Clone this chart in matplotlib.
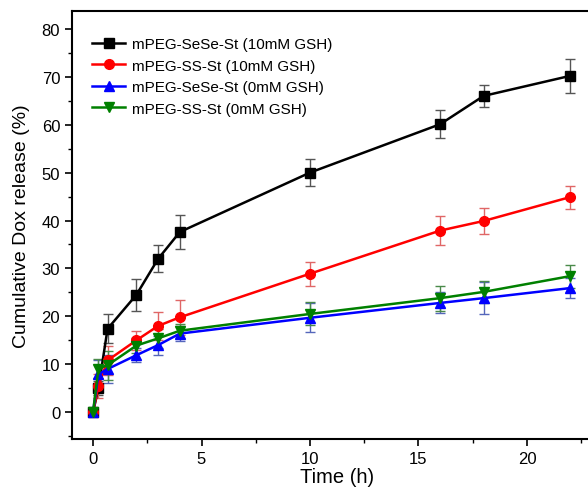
import matplotlib.pyplot as plt
from matplotlib.ticker import MultipleLocator

plt.rcParams['font.family'] = ['Liberation Sans', 'DejaVu Sans']

# release data (time in h, cumulative release in %)
time_h = [0, 0.25, 0.67, 2, 3, 4, 10, 16, 18, 22]

sese_10 = [0, 5.0, 17.4, 24.5, 32.0, 37.6, 50.0, 60.1, 66.0, 70.2]
sese_10_err = [0, 1.5, 3.0, 3.3, 2.8, 3.5, 2.9, 2.9, 2.3, 3.6]

ss_10 = [0, 5.5, 10.8, 15.0, 18.0, 19.8, 28.9, 37.9, 39.9, 44.9]
ss_10_err = [0, 2.5, 3.0, 2.0, 3.0, 3.6, 2.5, 3.1, 2.8, 2.4]

sese_0 = [0, 7.9, 9.0, 11.9, 14.0, 16.4, 19.7, 22.8, 23.8, 25.9]
sese_0_err = [0, 3.0, 3.0, 1.5, 2.0, 1.5, 3.0, 2.2, 3.4, 2.0]

ss_0 = [0, 9.1, 9.8, 13.9, 15.4, 17.0, 20.5, 23.8, 25.1, 28.4]
ss_0_err = [0, 2.0, 3.0, 1.5, 2.0, 1.5, 2.4, 2.6, 2.3, 2.4]

labels = ['mPEG-SeSe-St (10mM GSH)', 'mPEG-SS-St (10mM GSH)',
          'mPEG-SeSe-St (0mM GSH)', 'mPEG-SS-St (0mM GSH)']

fig = plt.figure(figsize=(5.88, 4.89), dpi=100)
ax = fig.add_axes([0.1224, 0.1002, 0.903, 0.876])

series = [
    (sese_10, sese_10_err, 'black', 's', '#555555'),
    (ss_10, ss_10_err, 'red', 'o', '#e06666'),
    (sese_0, sese_0_err, 'blue', '^', '#5566bb'),
    (ss_0, ss_0_err, 'green', 'v', '#4a8a4a'),
]
handles = []
for (vals, errs, col, mk, ecol), lab in zip(series, labels):
    eb = ax.errorbar(time_h, vals, yerr=errs, color=col, marker=mk, markersize=7,
                     linewidth=1.8, ecolor=ecol, elinewidth=1.0, capsize=3.5,
                     capthick=1.0, label=lab)
    handles.append(eb[0])

ax.set_xlim(-0.97, 23.5)
ax.set_ylim(-5.6, 83.8)
ax.xaxis.set_major_locator(MultipleLocator(5))
ax.xaxis.set_minor_locator(MultipleLocator(2.5))
ax.yaxis.set_major_locator(MultipleLocator(10))
ax.yaxis.set_minor_locator(MultipleLocator(5))
ax.tick_params(which='major', direction='out', length=5, width=1.2, labelsize=12)
ax.tick_params(which='minor', direction='out', length=3, width=1.0)
for sp in ax.spines.values():
    sp.set_linewidth(1.5)

ax.set_xlabel('Time (h)', fontsize=14.5, labelpad=1)
ax.set_ylabel('Cumulative Dox release (%)', fontsize=14, labelpad=8)

ax.legend(handles, labels, loc='upper left', frameon=False, fontsize=11,
          handlelength=2.2, handletextpad=0.4, labelspacing=0.5,
          borderaxespad=0.9, bbox_to_anchor=(0.0, 0.985))

fig.savefig('out.png', dpi=100)
